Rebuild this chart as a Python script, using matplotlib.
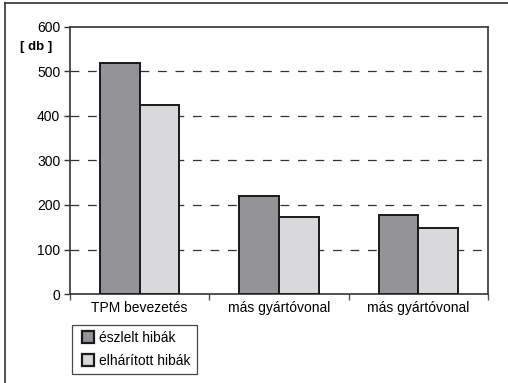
import matplotlib
matplotlib.use('Agg')
import matplotlib.pyplot as plt
from matplotlib.lines import Line2D
import numpy as np

plt.rcParams['font.family'] = ['Liberation Sans', 'DejaVu Sans']

categories = ['TPM bevezetés', 'más gyártóvonal', 'más gyártóvonal']
series_names = ['észlelt hibák', 'elhárított hibák']
detected = [520, 221, 178]
fixed = [425, 172, 148]
y_ticks = [0, 100, 200, 300, 400, 500, 600]

colors = ['#949498', '#d9d9dc']
W, H = 508, 383
fig = plt.figure(figsize=(W / 100, H / 100), dpi=100)
ax = fig.add_axes([70 / W, 1 - 294 / H, (488 - 70) / W, (294 - 27) / H])

x = np.arange(len(categories))
bw = 0.285
ax.bar(x - bw / 2, detected, bw, color=colors[0], edgecolor='#1a1a1a',
       linewidth=1.4, zorder=3, label=series_names[0])
ax.bar(x + bw / 2, fixed, bw, color=colors[1], edgecolor='#1a1a1a',
       linewidth=1.4, zorder=3, label=series_names[1])

ax.set_xlim(-0.5, len(categories) - 0.5)
ax.set_ylim(0, 600)
ax.set_yticks(y_ticks)
ax.set_xticks(x)
ax.set_xticklabels(categories)
ax.set_xticks(np.arange(len(categories) + 1) - 0.5, minor=True)
ax.tick_params(axis='x', which='major', length=0, pad=5, labelsize=10)
ax.tick_params(axis='x', which='minor', length=4, width=1, color='#555555')
ax.tick_params(axis='y', length=4, width=1, color='#333333', pad=3,
               labelsize=10)

for t in y_ticks[1:-1]:
    ax.axhline(t, color='#333333', lw=0.9, ls=(0, (7, 7)), zorder=1)

for s in ax.spines.values():
    s.set_linewidth(1.2)
    s.set_color('#333333')

fig.text(20 / W, 1 - 47 / H, '[ db ]', fontsize=9.5, fontweight='bold',
         va='center', ha='left')

handles = [Line2D([], [], ls='none', marker='s', markersize=8,
                  markerfacecolor=c, markeredgecolor='#1a1a1a',
                  markeredgewidth=1.6) for c in colors]
leg = fig.legend(handles, series_names, loc='upper left',
                 bbox_to_anchor=(72 / W, 1 - 325 / H), fontsize=10,
                 frameon=True, fancybox=False, edgecolor='#1a1a1a',
                 borderpad=0.45, handlelength=1.4, handletextpad=0.1,
                 labelspacing=0.6, borderaxespad=0)
leg.get_frame().set_linewidth(0.9)

# outer frame (only top and left edges are visible)
fig.add_artist(Line2D([5 / W, 1], [1 - 3 / H, 1 - 3 / H], color='#333333',
                      lw=1.2, transform=fig.transFigure))
fig.add_artist(Line2D([5 / W, 5 / W], [0, 1 - 3 / H], color='#333333',
                      lw=1.2, transform=fig.transFigure))

fig.savefig('out.png', dpi=100)
